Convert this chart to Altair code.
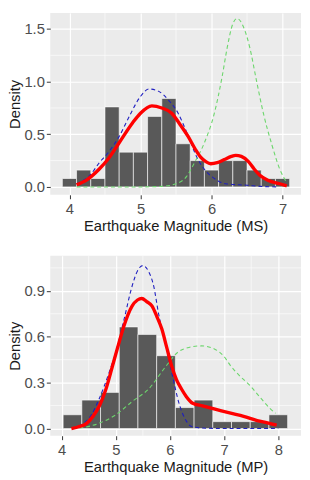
import altair as alt
import pandas as pd

# ---------------- Top panel (MS) ----------------
ms_bin_centers = [4.0, 4.2, 4.4, 4.6, 4.8, 5.0, 5.2, 5.4, 5.6, 5.8, 6.0, 6.2, 6.4, 6.6, 6.8, 7.0]
ms_density = [0.08, 0.16, 0.08, 0.76, 0.33, 0.33, 0.67, 0.84, 0.41, 0.25, 0.16, 0.25, 0.25, 0.16, 0.08, 0.08]
ms_binwidth = 0.2

ms_mix_x = [4.1, 4.25, 4.42, 4.55, 4.70, 4.89, 5.0, 5.16, 5.3, 5.44, 5.55, 5.67, 5.77, 5.85, 5.92, 5.99,
            6.08, 6.18, 6.28, 6.34, 6.42, 6.52, 6.6, 6.68, 6.8, 6.96, 7.06]
ms_mix_y = [0.02, 0.07, 0.17, 0.27, 0.42, 0.61, 0.70, 0.77, 0.75, 0.70, 0.60, 0.48, 0.36, 0.28, 0.24, 0.22,
            0.23, 0.26, 0.29, 0.30, 0.29, 0.24, 0.17, 0.11, 0.06, 0.03, 0.01]

ms_c1_x = [4.1, 4.3, 4.42, 4.55, 4.7, 4.85, 5.0, 5.12, 5.25, 5.4, 5.53, 5.65, 5.81, 5.92, 6.04, 6.11, 6.2, 6.5, 6.7, 6.95]
ms_c1_y = [0.03, 0.12, 0.23, 0.33, 0.48, 0.68, 0.86, 0.93, 0.91, 0.82, 0.70, 0.52, 0.26, 0.15, 0.08, 0.05, 0.03, 0.016, 0.005, 0.0]

ms_c2_x = [4.1, 4.6, 5.0, 5.3, 5.5, 5.65, 5.76, 5.9, 6.04, 6.15, 6.22, 6.3, 6.36, 6.45, 6.54, 6.63, 6.73, 6.85, 6.96, 7.06]
ms_c2_y = [0.0, 0.0, 0.0, 0.005, 0.03, 0.1, 0.23, 0.42, 0.70, 1.05, 1.32, 1.55, 1.60, 1.52, 1.32, 1.02, 0.70, 0.40, 0.17, 0.04]

ms_x_ticks = [4, 5, 6, 7]
ms_x_minor = [4.5, 5.5, 6.5]
ms_y_ticks = [0.0, 0.5, 1.0, 1.5]
ms_y_minor = [0.25, 0.75, 1.25]

# ---------------- Bottom panel (MP) ----------------
mp_binwidth = 0.3454545
mp_bin_centers = [4.2 + i * mp_binwidth for i in range(12)]
mp_density = [0.09, 0.186, 0.236, 0.664, 0.615, 0.476, 0.137, 0.186, 0.045, 0.045, 0.045, 0.09]

mp_mix_x = [4.18, 4.3, 4.45, 4.58, 4.70, 4.82, 4.94, 5.05, 5.15, 5.22, 5.30, 5.40, 5.48, 5.57, 5.67, 5.76,
            5.85, 5.94, 6.03, 6.12, 6.21, 6.30, 6.42, 6.6, 6.76, 6.95, 7.12, 7.36, 7.61, 7.8, 7.97]
mp_mix_y = [0.0, 0.01, 0.03, 0.08, 0.15, 0.26, 0.41, 0.55, 0.67, 0.74, 0.80, 0.84, 0.85, 0.83, 0.80, 0.73,
            0.65, 0.53, 0.41, 0.32, 0.26, 0.21, 0.165, 0.148, 0.133, 0.115, 0.10, 0.08, 0.052, 0.037, 0.022]

mp_c1_x = [4.2, 4.39, 4.55, 4.70, 4.88, 5.0, 5.15, 5.3, 5.4, 5.5, 5.6, 5.7, 5.79, 5.92, 6.03, 6.18, 6.3, 6.39, 6.6, 7.0, 7.5, 8.0]
mp_c1_y = [0.0, 0.03, 0.09, 0.2, 0.37, 0.5, 0.71, 0.93, 1.03, 1.065, 1.03, 0.93, 0.75, 0.55, 0.37, 0.15, 0.05, 0.015, 0.003, 0.0, 0.0, 0.0]

mp_c2_x = [4.2, 4.45, 4.7, 5.0, 5.3, 5.61, 5.91, 6.15, 6.35, 6.58, 6.82, 7.0, 7.12, 7.3, 7.48, 7.65, 7.85, 7.95]
mp_c2_y = [0.0, 0.01, 0.036, 0.09, 0.176, 0.26, 0.40, 0.50, 0.53, 0.54, 0.52, 0.47, 0.41, 0.34, 0.28, 0.21, 0.13, 0.10]

mp_x_ticks = [4, 5, 6, 7, 8]
mp_x_minor = [4.5, 5.5, 6.5, 7.5]
mp_y_ticks = [0.0, 0.3, 0.6, 0.9]
mp_y_minor = [0.15, 0.45, 0.75, 1.05]

BAR = "#595959"
RED = "#FF0000"
BLUE = "#1F1FC0"
GREEN = "#6CD66C"
FONT = "Liberation Sans"


def panel(centers, dens, bw, mix_x, mix_y, c1_x, c1_y, c2_x, c2_y,
          xt, xm, yt, ym, xdom, ydom, xtitle, fmt, w, h):
    xs = alt.Scale(domain=xdom, nice=False, zero=False)
    ys = alt.Scale(domain=ydom, nice=False, zero=False)
    xax = alt.Axis(values=xt, title=xtitle, format="d")
    yax = alt.Axis(values=yt, title="Density", format=fmt, titlePadding=1, labelPadding=2)

    bars = pd.DataFrame({"c": centers, "d": dens})
    bars["x0"] = bars["c"] - bw / 2
    bars["x1"] = bars["c"] + bw / 2
    bars["y0"] = 0.0

    minor_x = alt.Chart(pd.DataFrame({"v": xm})).mark_rule(color="white", strokeWidth=0.6).encode(
        x=alt.X("v:Q", scale=xs, axis=xax))
    minor_y = alt.Chart(pd.DataFrame({"v": ym})).mark_rule(color="white", strokeWidth=0.6).encode(
        y=alt.Y("v:Q", scale=ys, axis=yax))
    hist = alt.Chart(bars).mark_rect(color=BAR, stroke="white", strokeWidth=0.6).encode(
        x=alt.X("x0:Q", scale=xs, axis=xax), x2="x1:Q",
        y=alt.Y("y0:Q", scale=ys, axis=yax), y2="d:Q")

    def line(xv, yv, color, width, dash=None):
        df = pd.DataFrame({"x": xv, "y": yv, "o": list(range(len(xv)))})
        kw = dict(color=color, strokeWidth=width, interpolate="monotone")
        if dash:
            kw["strokeDash"] = dash
        return alt.Chart(df).mark_line(**kw).encode(
            x=alt.X("x:Q", scale=xs, axis=xax), y=alt.Y("y:Q", scale=ys, axis=yax), order="o:Q")

    c1 = line(c1_x, c1_y, BLUE, 1.1, [4, 3])
    c2 = line(c2_x, c2_y, GREEN, 1.1, [4, 3])
    mix = line(mix_x, mix_y, RED, 3.4)
    return alt.layer(minor_x, minor_y, hist, c1, c2, mix).properties(width=w, height=h)


top = panel(ms_bin_centers, ms_density, ms_binwidth, ms_mix_x, ms_mix_y, ms_c1_x, ms_c1_y, ms_c2_x, ms_c2_y,
            ms_x_ticks, ms_x_minor, ms_y_ticks, ms_y_minor, [3.73, 7.26], [-0.075, 1.653],
            "Earthquake Magnitude (MS)", ".1f", 255, 185)
bottom = panel(mp_bin_centers, mp_density, mp_binwidth, mp_mix_x, mp_mix_y, mp_c1_x, mp_c1_y, mp_c2_x, mp_c2_y,
               mp_x_ticks, mp_x_minor, mp_y_ticks, mp_y_minor, [3.79, 8.42], [-0.047, 1.129],
               "Earthquake Magnitude (MP)", ".1f", 255, 183)

chart = alt.vconcat(top, bottom, spacing=22).properties(padding=0).configure_view(
    fill="#EBEBEB", stroke=None
).configure_axis(
    grid=True, gridColor="white", gridWidth=1.2, domain=False,
    tickColor="#333333", tickSize=4, tickWidth=1,
    labelColor="#4D4D4D", labelFont=FONT, labelFontSize=15, labelPadding=3,
    titleColor="#1A1A1A", titleFont=FONT, titleFontSize=15, titleFontWeight="normal", titlePadding=2,
)

chart.save("out.html", embed_options={"renderer": "svg", "actions": False})
